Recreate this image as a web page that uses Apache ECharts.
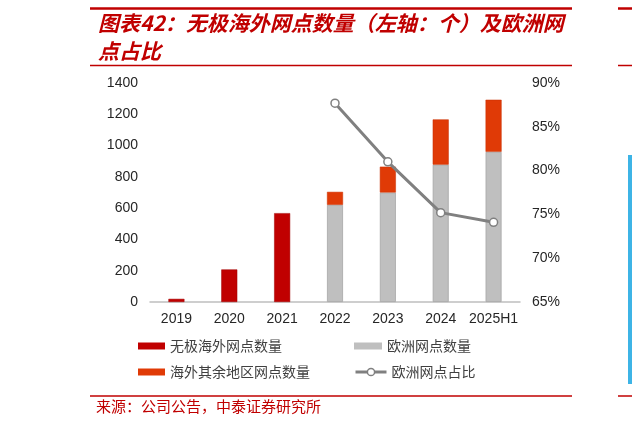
<!DOCTYPE html>
<html><head><meta charset="utf-8">
<script src="https://cdn.jsdelivr.net/npm/echarts@6/dist/echarts.min.js"></script>
<style>html,body{margin:0;padding:0;background:#fff}#c{width:632px;height:422px}</style>
</head><body><div id="c"></div>
<script>
const categories = ['2019','2020','2021','2022','2023','2024','2025H1'];
const wujiOverseas = [20, 208, 568, null, null, null, null];
const europeCount = [null, null, null, 621, 700, 878, 960];
const otherOverseas = [null, null, null, 83, 165, 289, 333];
const europeShare = [null, null, null, 87.7, 81.0, 75.2, 74.1];
const leftTicks = {min: 0, max: 1400, interval: 200};
const rightTicks = {min: 65, max: 90, interval: 5};

const CJK = '"Noto Sans CJK SC", "Noto Sans", sans-serif';
const NUM = '"Liberation Sans", Arial, sans-serif';
const chart = echarts.init(document.getElementById('c'));
const legendText = {fontSize: 14, color: '#404040', fontFamily: CJK, lineHeight: 14};
function lg(name, left, top, w, extra) {
  return Object.assign({data: [{name: name, icon: extra ? undefined : 'rect'}], left: left, top: top, itemWidth: w, itemHeight: 7, padding: 0,
    textStyle: legendText, selectedMode: false, itemStyle: {borderWidth: 0}}, extra || {});
}
chart.setOption({
  animation: false,
  title: {text: '图表42：无极海外网点数量（左轴：个）及欧洲网\n点占比', left: 93, top: 4,
    textStyle: {fontSize: 21, fontWeight: 'bold', fontStyle: 'italic', color: '#C00000', fontFamily: CJK, lineHeight: 28}},
  grid: {left: 150, right: 112, top: 83, bottom: 120, containLabel: false},
  legend: [
    lg('无极海外网点数量', 138, 339, 27),
    lg('海外其余地区网点数量', 138, 365, 27),
    lg('欧洲网点数量', 354, 339, 28),
    lg('欧洲网点占比', 354, 365, 31, {itemHeight: 9, lineStyle: {width: 3, color: '#808080'}, itemStyle: {color: '#fff', borderColor: '#808080', borderWidth: 1.5}})
  ],
  xAxis: {type: 'category', data: categories,
    axisLine: {lineStyle: {color: '#BFBFBF', width: 1.5}}, axisTick: {show: false},
    axisLabel: {fontSize: 14, color: '#262626', fontFamily: NUM, margin: 10, interval: 0}},
  yAxis: [
    {type: 'value', min: leftTicks.min, max: leftTicks.max, interval: leftTicks.interval,
      splitLine: {show: false}, axisLine: {show: false}, axisTick: {show: false},
      axisLabel: {fontSize: 14, color: '#262626', fontFamily: NUM, margin: 12, formatter: v => String(v)}},
    {type: 'value', min: rightTicks.min, max: rightTicks.max, interval: rightTicks.interval,
      splitLine: {show: false}, axisLine: {show: false}, axisTick: {show: false},
      axisLabel: {fontSize: 14, color: '#262626', fontFamily: NUM, margin: 12, formatter: '{value}%'}}
  ],
  series: [
    {name: '无极海外网点数量', type: 'bar', stack: 'a', data: wujiOverseas, barWidth: 16,
      itemStyle: {color: '#C00000', borderColor: '#A00000', borderWidth: 0.5}},
    {name: '欧洲网点数量', type: 'bar', stack: 'a', data: europeCount, barWidth: 16,
      itemStyle: {color: '#BFBFBF', borderColor: '#A6A6A6', borderWidth: 0.8}},
    {name: '海外其余地区网点数量', type: 'bar', stack: 'a', data: otherOverseas, barWidth: 16,
      itemStyle: {color: '#E03A06', borderColor: '#C83000', borderWidth: 0.5}},
    {name: '欧洲网点占比', type: 'line', yAxisIndex: 1, data: europeShare,
      symbol: 'circle', symbolSize: 8, showSymbol: true,
      lineStyle: {color: '#808080', width: 3},
      itemStyle: {color: '#FFFFFF', borderColor: '#808080', borderWidth: 1.5}}
  ],
  graphic: [
    {type: 'line', shape: {x1: 90, y1: 8.5, x2: 572, y2: 8.5}, style: {stroke: '#C00000', lineWidth: 2.5}},
    {type: 'line', shape: {x1: 90, y1: 65.5, x2: 572, y2: 65.5}, style: {stroke: '#C00000', lineWidth: 1.5}},
    {type: 'line', shape: {x1: 90, y1: 396, x2: 572, y2: 396}, style: {stroke: '#C00000', lineWidth: 1.5}},
    {type: 'line', shape: {x1: 618, y1: 8.5, x2: 632, y2: 8.5}, style: {stroke: '#C00000', lineWidth: 2.5}},
    {type: 'line', shape: {x1: 618, y1: 65.5, x2: 632, y2: 65.5}, style: {stroke: '#C00000', lineWidth: 1.5}},
    {type: 'line', shape: {x1: 618, y1: 396, x2: 632, y2: 396}, style: {stroke: '#C00000', lineWidth: 1.5}},
    {type: 'rect', shape: {x: 628, y: 155, width: 4, height: 229}, style: {fill: '#3DB4E6'}},
    {type: 'text', left: 96, top: 399, style: {text: '来源：公司公告，中泰证券研究所', fontSize: 15, fill: '#C00000', fontFamily: CJK}}
  ]
});
</script></body></html>
